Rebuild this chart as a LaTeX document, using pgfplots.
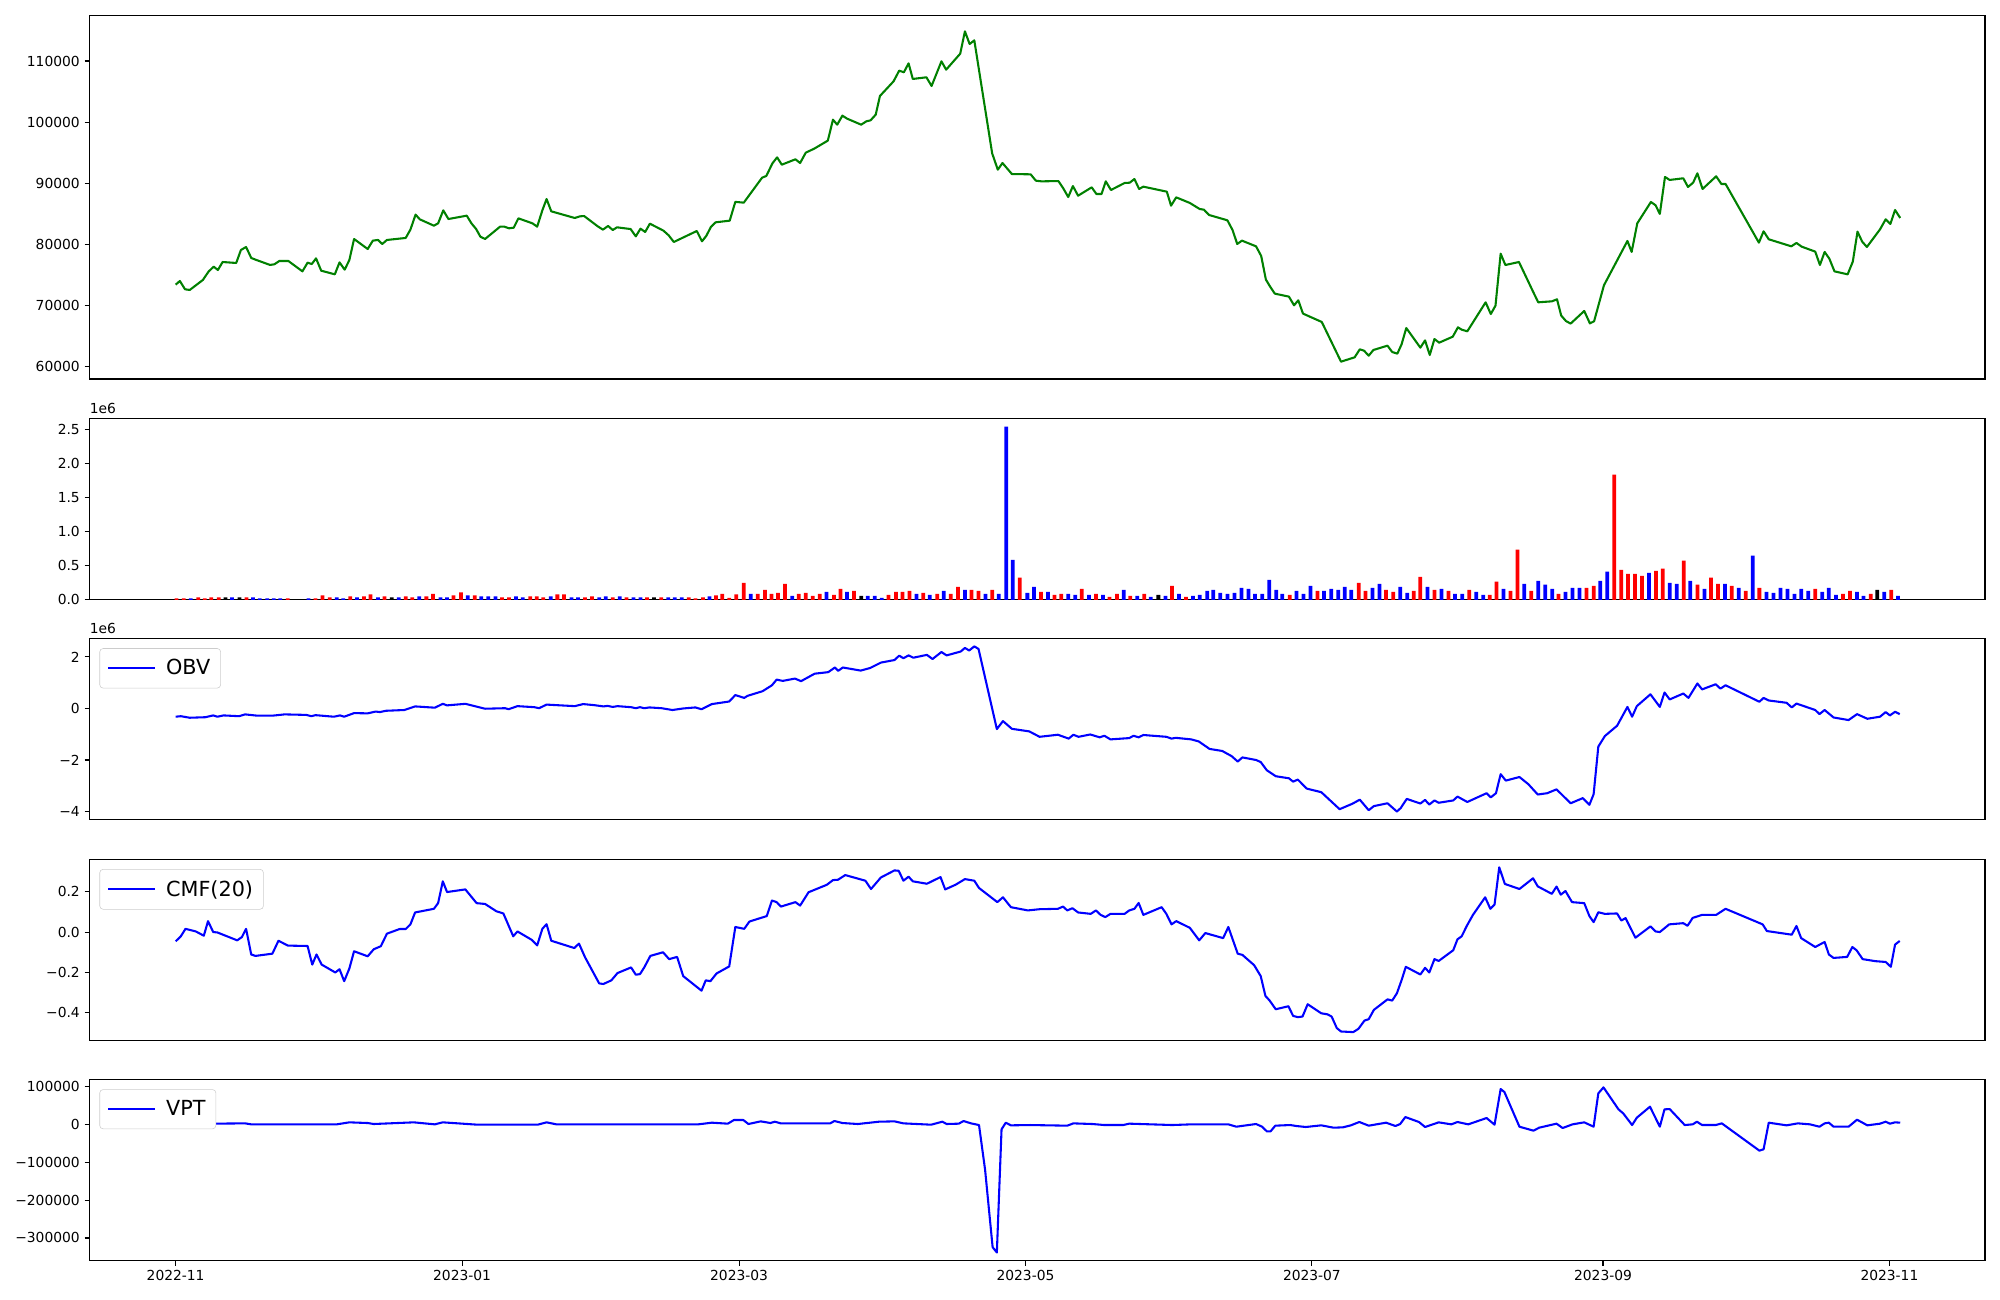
\documentclass[border=0pt]{standalone}
\usepackage{fontspec}
\setmainfont{DejaVu Sans}
\usepackage{pgfplots}
\pgfplotsset{compat=1.18}

% one pixel of the 2000x1300 reference = 0.254mm
\pgfplotsset{
  panel/.style={
    scale only axis, width=481.46mm,
    xmin=-18.35, xmax=385.35,
    scaled ticks=false,
    axis line style={line width=0.8pt},
    every tick/.style={line width=0.8pt, black},
    major tick length=3.5pt, tick align=outside, tick pos=left,
    xtick=\empty,
    tick label style={font=\fontsize{10}{12}\selectfont},
    every axis plot/.append style={line width=1.5pt, line join=round},
    legend style={at={(0,1)}, anchor=north west, xshift=7.2pt, yshift=-7.2pt,
      draw=black!20, rounded corners=2.5pt, fill=white,
      font=\fontsize{15}{18}\selectfont, inner xsep=5.5pt, inner ysep=6pt,
      column sep=5pt},
    legend cell align=left,
    legend image code/.code={\draw[##1, line width=1.5pt] (0pt,0pt) -- (34pt,0pt);},
  },
  offset label/.style={clip=false,
    after end axis/.code={\node[anchor=south west, inner sep=0pt,
      font=\fontsize{10}{12}\selectfont] at ([yshift=3pt]rel axis cs:0,1) {1e6};}},
}

\begin{document}
\begin{tikzpicture}
\useasboundingbox (0,0) rectangle (508mm,330.2mm);

% price
\begin{axis}[panel, at={(22.73mm,326.31mm)}, anchor=north west, height=92.38mm,
    ymin=57920, ymax=117485,
    ytick={60000,70000,80000,90000,100000,110000},
    yticklabels={60000,70000,80000,90000,100000,110000}]
\addplot[color={rgb,255:red,0;green,128;blue,0}] coordinates {
(0,73370) (0.9,73970) (2.0,72610) (3.0,72500) (5.8,74140) (7.0,75500) (8.1,76320)
(9.0,75770) (10.0,77080) (12.9,76920) (13.9,79050) (15.0,79540) (16.1,77740)
(17.2,77410) (20.1,76600) (21.0,76700) (22.1,77250) (24.0,77250) (27.0,75550)
(28.1,76970) (29.0,76750) (29.9,77680) (31.0,75660) (33.9,75060) (34.9,77020)
(36.0,75820) (37.0,77410) (38.0,80850) (40.9,79210) (42.0,80580) (43.1,80690)
(44.0,80030) (45.0,80690) (49.0,81020) (50.0,82380) (51.1,84840) (52.0,84070)
(55.0,83030) (55.9,83410) (57.0,85540) (58.1,84120) (62.0,84670) (63.0,83410)
(64.0,82480) (64.9,81230) (65.9,80850) (69.1,82870) (70.0,82870) (71.0,82600)
(72.0,82700) (73.0,84230) (76.0,83410) (77.0,82870) (78.1,85540) (79.0,87400)
(80.0,85380) (85.0,84290) (86.1,84560) (87.0,84610) (89.9,82920) (91.0,82380)
(92.1,82980) (93.1,82320) (94.0,82760) (96.9,82480) (98.0,81280) (99.0,82540)
(100.0,82000) (101.0,83360) (103.9,82210) (105.0,81450) (106.1,80360) (111.0,82160)
(112.1,80470) (113.0,81340) (114.0,82820) (115.0,83580) (118.0,83850) (119.2,86930)
(121.0,86800) (124.9,90890) (125.8,91170) (127.1,93240) (128.1,94220) (129.1,93020)
(132.0,93900) (133.0,93290) (134.2,94990) (136.0,95640) (138.9,96960) (140.0,100390)
(140.9,99570) (142.0,101050) (143.0,100560) (146.0,99570) (147.1,100120) (148.0,100280)
(149.1,101210) (150.0,104270) (152.9,106670) (154.1,108420) (155.1,108150) (156.1,109620)
(157.0,107060) (159.9,107330) (161.0,105910) (163.1,109950) (164.1,108580) (167.1,111200)
(168.1,114860) (169.1,112780) (170.1,113380) (173.9,94880) (175.1,92200) (176.1,93290)
(178.1,91490) (182.1,91440) (183.2,90400) (184.4,90290) (188.0,90340) (189.0,89200)
(190.1,87720) (191.1,89520) (192.2,87940) (195.1,89310) (196.1,88220) (197.2,88220)
(198.1,90290) (199.2,88870) (202.1,90020) (203.2,90070) (204.2,90670) (205.2,89040)
(206.1,89420) (211.1,88600) (212.0,86310) (213.1,87670) (216.0,86750) (218.1,85760)
(219.0,85650) (220.1,84780) (224.0,83910) (225.1,82320) (226.1,80030) (227.1,80580)
(230.1,79650) (231.2,78070) (232.2,74200) (233.1,73050) (234.1,71900) (237.1,71410)
(238.2,69990) (239.1,70810) (240.1,68630) (244.1,67260) (248.2,60760) (251.1,61470)
(252.2,62780) (253.1,62560) (254.1,61740) (255.1,62670) (258.1,63380) (259.1,62340)
(260.2,62070) (261.1,63600) (262.1,66270) (265.1,63050) (266.1,64250) (267.1,61850)
(268.1,64470) (269.1,63870) (272.0,64850) (273.1,66380) (273.9,66000) (275.1,65730)
(279.0,70480) (280.1,68560) (281.1,69930) (282.2,78450) (283.2,76590) (286.1,77080)
(289.1,72230) (290.2,70480) (293.1,70640) (294.2,70970) (295.1,68300) (296.1,67420)
(297.1,66990) (300.0,69060) (301.2,67040) (302.1,67370) (304.2,73270) (309.2,80530)
(310.1,78730) (311.3,83420) (314.2,86910) (315.2,86370) (316.1,84950) (317.2,91010)
(318.2,90520) (321.1,90790) (322.1,89370) (323.2,90080) (324.1,91610) (325.2,89040)
(328.1,91120) (329.2,89860) (330.1,89860) (337.2,80250) (338.2,82110) (339.3,80800)
(344.1,79650) (345.2,80200) (346.3,79600) (349.2,78780) (350.2,76590) (351.2,78730)
(352.2,77630) (353.3,75550) (356.1,75060) (357.2,77140) (358.2,82050) (359.2,80410)
(360.2,79540) (363.0,82430) (364.2,84070) (365.2,83310) (366.2,85600) (367.3,84290)
};
\end{axis}

% volume
\begin{axis}[panel, offset label, at={(22.73mm,223.95mm)}, anchor=north west, height=46.1mm,
    ymin=0, ymax=2665000,
    ytick={0,500000,1000000,1500000,2000000,2500000},
    yticklabels={0.0,0.5,1.0,1.5,2.0,2.5}]
\addplot[ybar, bar width=0.8, bar shift=0pt, fill=red, draw=none] coordinates {
(0.2,20000) (1.7,20000) (4.8,34000) (6.2,20000) (7.6,34000) (9.2,34000) (15.1,34000)
(23.9,20000) (29.8,20000) (31.3,64000) (32.8,34000) (37.2,50000) (40.1,50000)
(41.5,78000) (44.5,50000) (49.0,50000) (50.4,34000) (53.4,50000) (54.8,88000)
(59.2,64000) (60.8,108000) (63.7,64000) (69.5,34000) (71.0,34000) (75.5,50000)
(76.9,50000) (78.3,34000) (81.3,78000) (82.7,78000) (87.2,34000) (88.7,50000)
(93.1,34000) (96.0,34000) (100.4,34000) (103.4,34000) (109.3,34000) (110.7,20000)
(112.3,34000) (115.1,64000)
(116.4,88000) (117.9,30000) (119.4,78000) (121.0,250000) (124.0,88000) (125.5,147000)
(126.9,88000) (128.3,103000) (129.8,235000) (132.7,88000) (134.2,103000) (135.7,59000)
(137.2,88000) (140.2,74000) (141.6,162000) (144.5,132000) (151.8,74000) (153.4,118000)
(154.8,118000) (156.3,132000) (159.2,103000) (162.2,88000) (165.1,88000) (166.6,191000)
(169.5,147000) (171.0,132000) (173.9,147000) (179.8,324000) (184.3,118000) (187.2,74000)
(188.6,88000) (193.0,162000) (196.0,88000) (198.9,44000) (200.5,88000) (203.3,59000)
(206.3,88000) (212.2,206000) (215.2,44000) (237.3,74000) (243.2,132000) (252.0,250000)
(253.4,132000)
(257.8,147000) (259.3,118000) (263.7,132000) (265.1,338000) (268.1,147000) (271.1,132000)
(275.5,147000) (279.9,74000) (281.3,265000) (284.3,132000) (285.8,735000) (288.7,132000)
(294.5,88000) (300.5,176000) (302.0,206000) (306.4,1838000) (307.9,441000) (309.3,382000)
(310.8,382000) (312.3,353000) (315.3,426000) (316.7,456000) (321.2,574000) (324.1,221000)
(327.0,324000) (328.5,235000) (331.4,206000) (334.4,132000) (337.3,176000) (349.2,162000)
(355.1,88000) (356.6,132000) (361.0,88000) (365.4,147000)
};
\addplot[ybar, bar width=0.8, bar shift=0pt, fill=blue, draw=none] coordinates {
(3.2,20000) (12.0,34000) (16.5,34000) (17.9,20000) (19.5,20000) (20.9,20000) (22.3,20000)
(28.3,20000) (34.3,34000) (35.7,20000) (38.6,34000) (43.1,34000) (47.5,34000) (51.9,50000)
(56.4,34000) (57.8,34000) (62.2,64000) (65.1,50000) (66.6,50000) (68.1,50000) (72.5,50000)
(73.9,34000) (79.9,50000) (84.3,34000) (85.7,34000) (90.2,34000) (91.6,50000) (94.6,50000)
(97.5,34000) (99.0,34000) (104.9,34000) (106.3,34000) (107.8,34000) (113.7,50000)
(122.5,88000) (131.3,59000) (138.6,118000) (143.0,118000) (147.4,59000) (148.9,59000)
(150.4,30000) (157.8,88000) (160.6,74000) (163.6,132000) (168.1,147000) (172.5,88000)
(175.3,88000) (176.9,2544000) (178.3,588000) (181.4,103000) (182.8,191000) (185.8,118000)
(190.1,88000) (191.6,74000) (194.5,74000) (197.5,74000) (201.9,147000) (204.8,59000)
(207.7,44000) (210.8,59000) (213.7,88000) (216.7,59000) (218.1,74000) (219.7,132000)
(221.0,147000) (222.5,103000) (224.0,88000) (225.5,103000) (227.0,176000) (228.5,162000)
(229.9,88000) (231.4,88000) (232.9,294000) (234.4,147000) (235.7,88000) (238.7,132000)
(240.2,88000) (241.7,206000) (244.6,132000) (246.1,162000) (247.6,147000) (249.0,191000)
(250.4,147000) (254.9,176000) (256.4,235000)
(260.8,191000) (262.3,103000) (266.6,191000) (269.6,162000) (272.5,88000) (274.0,88000)
(277.0,118000) (278.5,74000) (282.8,162000) (287.2,235000) (290.2,279000) (291.7,221000)
(293.2,162000) (296.0,118000) (297.5,176000) (299.0,176000) (303.4,279000) (304.9,412000)
(313.8,397000) (318.2,250000) (319.7,235000) (322.6,279000) (325.6,162000) (330.0,235000)
(332.9,176000) (335.9,647000) (338.8,118000) (340.3,103000) (341.8,176000) (343.3,162000)
(344.8,88000) (346.2,162000) (347.7,132000) (350.7,118000) (352.1,176000) (353.6,74000)
(358.1,118000) (359.5,59000) (363.9,118000) (366.8,59000)
};
\addplot[ybar, bar width=0.8, bar shift=0pt, fill=black, draw=none] coordinates {
(10.6,34000) (13.6,34000) (46.0,34000) (101.9,34000) (146.0,59000) (209.3,74000) (362.4,147000)
};
\end{axis}

% OBV
\begin{axis}[panel, offset label, at={(22.73mm,168.08mm)}, anchor=north west, height=46.1mm,
    ymin=-4320000, ymax=2725000,
    ytick={-4000000,-2000000,0,2000000},
    yticklabels={−4,−2,0,2}]
\addplot[blue] coordinates {
(0,-320000) (1.1,-300000) (3.0,-360000) (6.3,-340000) (8.0,-270000) (8.9,-320000)
(10.2,-270000) (13.5,-300000) (14.8,-230000) (17.4,-280000) (20.6,-280000) (23.2,-230000)
(27.8,-250000) (28.9,-300000) (29.8,-260000) (33.7,-320000) (35.0,-270000) (35.9,-320000)
(38.0,-180000) (40.9,-190000) (42.6,-120000) (43.5,-140000) (44.8,-90000) (48.7,-60000)
(51.0,80000) (55.2,30000) (56.9,180000) (57.8,120000) (61.7,180000) (65.9,-10000)
(70.2,10000) (70.9,-30000) (72.8,90000) (76.4,50000) (77.4,10000) (79.0,150000)
(85.0,90000) (86.8,170000) (89.1,130000) (91.1,80000) (92.0,100000) (93.1,60000)
(94.1,90000) (97.0,50000) (98.0,10000) (98.9,50000) (99.8,10000) (100.9,40000)
(103.5,10000) (105.8,-60000) (108.1,0) (110.7,40000) (112.0,-30000) (114.2,170000)
(117.9,270000) (119.2,520000) (121.1,410000) (121.8,490000) (125.0,670000) (127.0,900000)
(128.0,1120000) (129.3,1070000) (131.9,1160000) (133.2,1060000) (136.1,1350000)
(139.0,1410000) (140.4,1590000) (141.1,1460000) (142.1,1590000) (145.9,1470000)
(147.9,1570000) (150.2,1780000) (153.1,1880000) (154.1,2050000) (155.0,1950000)
(156.1,2060000) (157.1,1970000) (160.0,2080000) (161.2,1920000) (163.1,2190000)
(164.2,2060000) (167.2,2210000) (168.1,2350000) (169.0,2250000) (170.1,2410000)
(171.0,2310000) (174.9,-800000) (176.2,-490000) (178.1,-790000) (181.8,-890000)
(184.0,-1100000) (187.9,-1020000) (190.2,-1170000) (191.2,-1020000) (192.3,-1100000)
(194.8,-1010000) (196.8,-1120000) (197.8,-1060000) (199.1,-1200000) (203.1,-1150000)
(204.0,-1060000) (205.1,-1120000) (206.1,-1030000) (211.0,-1100000) (212.1,-1170000)
(213.0,-1140000) (216.3,-1200000) (217.9,-1280000) (220.2,-1570000) (222.9,-1650000)
(224.9,-1850000) (226.2,-2060000) (227.2,-1900000) (230.1,-2000000) (231.1,-2080000)
(232.4,-2400000) (234.3,-2630000) (237.1,-2710000) (238.0,-2840000) (239.0,-2760000)
(240.9,-3110000) (244.0,-3250000) (247.9,-3910000) (250.6,-3700000) (252.2,-3540000)
(254.1,-3950000) (255.2,-3790000) (258.1,-3680000) (260.1,-4000000) (260.9,-3870000)
(262.2,-3510000) (265.1,-3690000) (266.1,-3550000) (267.0,-3730000) (268.1,-3570000)
(269.0,-3660000) (272.1,-3570000) (273.0,-3420000) (275.1,-3630000) (279.2,-3290000)
(280.1,-3450000) (281.2,-3290000) (282.2,-2550000) (283.3,-2800000) (286.2,-2660000)
(288.1,-2940000) (290.1,-3340000) (292.1,-3290000) (294.1,-3140000) (297.1,-3680000)
(299.7,-3480000) (301.1,-3740000) (302.0,-3330000) (303.0,-1480000) (304.4,-1070000)
(307.0,-670000) (309.2,60000) (310.2,-320000) (311.2,90000) (314.1,550000) (316.1,60000)
(317.1,620000) (318.2,350000) (321.1,580000) (322.2,410000) (324.1,970000) (325.1,740000)
(328.0,940000) (329.0,770000) (330.1,900000) (337.3,260000) (338.2,410000) (339.3,310000)
(343.1,220000) (344.2,40000) (345.2,190000) (349.2,-60000) (350.1,-220000) (351.2,-60000)
(353.1,-350000) (356.3,-450000) (358.1,-220000) (360.3,-400000) (363.0,-320000)
(364.2,-140000) (365.1,-270000) (366.2,-130000) (367.2,-220000)
};
\legend{OBV}
\end{axis}

% CMF
\begin{axis}[panel, at={(22.73mm,111.99mm)}, anchor=north west, height=46.1mm,
    ymin=-0.537, ymax=0.361,
    ytick={-0.4,-0.2,0,0.2},
    yticklabels={−0.4,−0.2,0.0,0.2}]
\addplot[blue] coordinates {
(0,-0.046) (1.1,-0.021) (2.1,0.016) (4.3,0.003) (6.0,-0.018) (6.9,0.054) (8.0,0.0)
(8.9,-0.002) (13.1,-0.041) (14.1,-0.025) (15.0,0.016) (16.1,-0.111) (17.0,-0.118)
(20.6,-0.107) (21.9,-0.043) (23.9,-0.067) (28.1,-0.069) (29.1,-0.161) (30.0,-0.111)
(31.1,-0.161) (34.0,-0.2) (34.9,-0.184) (35.9,-0.243) (37.0,-0.180) (38.0,-0.095)
(40.9,-0.120) (42.2,-0.085) (43.7,-0.070) (45.0,-0.008) (47.7,0.015) (49.0,0.015)
(50.0,0.038) (51.0,0.097) (55.0,0.115) (55.9,0.143) (56.9,0.251) (57.8,0.198)
(61.7,0.211) (64.1,0.143) (65.9,0.139) (68.3,0.103) (69.8,0.092) (71.9,-0.021)
(72.8,0.003) (75.8,-0.038) (77.0,-0.066) (78.1,0.016) (79.0,0.039) (80.0,-0.043)
(84.9,-0.079) (85.9,-0.057) (87.2,-0.125) (90.2,-0.254) (91.1,-0.257) (92.8,-0.239)
(94.1,-0.203) (97.0,-0.175) (98.0,-0.211) (98.9,-0.208) (99.8,-0.175) (101.1,-0.118)
(103.8,-0.100) (105.1,-0.134) (106.8,-0.123) (108.1,-0.218) (112.0,-0.290) (112.9,-0.239)
(113.9,-0.243) (115.2,-0.205) (117.9,-0.170) (119.2,0.025) (121.1,0.016) (122.2,0.052)
(124.1,0.066) (125.9,0.079) (127.0,0.156) (128.0,0.148) (128.9,0.126) (132.0,0.148)
(133.0,0.131) (134.8,0.197) (138.7,0.234) (140.0,0.257) (141.1,0.259) (142.6,0.282)
(146.9,0.254) (148.1,0.213) (150.2,0.270) (153.1,0.305) (154.0,0.303) (155.0,0.254)
(156.1,0.274) (157.0,0.251) (160.0,0.239) (162.9,0.272) (163.9,0.211) (166.1,0.234)
(168.1,0.262) (170.1,0.254) (171.1,0.218) (175.0,0.148) (176.2,0.172) (177.9,0.123)
(181.5,0.107) (184.0,0.113) (187.9,0.115) (189.0,0.126) (189.9,0.107) (191.0,0.118)
(192.2,0.097) (194.9,0.090) (196.0,0.107) (197.0,0.085) (198.0,0.074) (199.1,0.090)
(202.1,0.090) (203.1,0.107) (204.2,0.115) (205.1,0.144) (206.1,0.085) (210.0,0.123)
(211.0,0.090) (212.1,0.038) (213.1,0.054) (216.0,0.021) (218.0,-0.041) (219.3,-0.005)
(223.1,-0.030) (224.2,0.025) (226.2,-0.107) (227.2,-0.113) (229.7,-0.164) (231.1,-0.218)
(232.1,-0.316) (233.0,-0.339) (234.3,-0.382) (237.0,-0.367) (238.0,-0.415) (239.0,-0.421)
(240.0,-0.418) (241.1,-0.357) (244.0,-0.402) (245.3,-0.407) (246.2,-0.418) (247.3,-0.475)
(248.2,-0.492) (250.8,-0.495) (251.9,-0.479) (253.2,-0.438) (254.1,-0.431) (255.2,-0.385)
(258.1,-0.333) (259.1,-0.339) (260.1,-0.303) (261.1,-0.238) (262.0,-0.172) (265.1,-0.210)
(266.1,-0.177) (267.0,-0.200) (268.1,-0.134) (269.0,-0.143) (272.1,-0.090) (273.0,-0.036)
(273.9,-0.021) (275.0,0.031) (276.3,0.085) (278.9,0.172) (280.0,0.115) (280.9,0.136)
(281.9,0.320) (283.1,0.238) (286.2,0.213) (289.1,0.266) (290.1,0.226) (293.1,0.189)
(294.1,0.225) (295.0,0.185) (296.0,0.203) (297.4,0.148) (300.0,0.143) (301.1,0.079)
(302.0,0.049) (303.0,0.098) (304.4,0.090) (307.0,0.092) (307.9,0.057) (308.8,0.069)
(310.9,-0.028) (314.1,0.028) (315.2,0.003) (316.1,0.0) (318.1,0.038) (321.1,0.044)
(322.0,0.031) (323.1,0.070) (325.1,0.085) (328.1,0.085) (330.1,0.115) (338.0,0.038)
(338.9,0.005) (344.2,-0.013) (345.2,0.030) (346.2,-0.030) (349.2,-0.074) (351.2,-0.049)
(352.1,-0.111) (353.1,-0.128) (356.0,-0.123) (357.1,-0.074) (358.0,-0.090) (359.3,-0.134)
(362.0,-0.144) (364.2,-0.148) (365.3,-0.172) (366.2,-0.062) (367.2,-0.044)
};
\legend{CMF(20)}
\end{axis}

% VPT
\begin{axis}[panel, at={(22.73mm,56.06mm)}, anchor=north west, height=46.1mm,
    ymin=-360300, ymax=119000,
    ytick={-300000,-200000,-100000,0,100000},
    yticklabels={−300000,−200000,−100000,0,100000},
    xtick={0,61,120,181,242,304,365},
    xticklabels={2022-11,2023-01,2023-03,2023-05,2023-07,2023-09,2023-11}]
\addplot[blue] coordinates {
(0,900) (14.8,2600) (16.1,0) (34.3,0) (37.0,5300) (40.9,3500) (42.2,900) (50.7,5300)
(55.2,0) (56.9,5300) (64.3,-900) (77.1,-900) (79.0,5300) (81.1,0) (111.3,0) (114.2,4400)
(117.6,1800) (118.9,11400) (120.9,11400) (122.0,900) (124.6,7900) (126.7,3500)
(127.6,7000) (128.9,2600) (139.4,2600) (140.3,8800) (142.0,3500) (145.3,900)
(149.8,7000) (153.1,7900) (155.0,2600) (160.9,-900) (163.3,7000) (164.2,900)
(166.8,1800) (167.8,8800) (169.4,2600) (171.1,-1800) (172.4,-120400) (174.0,-324400)
(174.9,-338500) (175.9,-13200) (176.8,4400) (177.9,-2600) (182.0,-1800) (189.9,-3500)
(191.2,2600) (195.2,900) (197.8,-1800) (201.8,-1800) (203.1,1800) (212.3,-1800)
(216.3,0) (224.2,0) (225.9,-6200) (230.1,900) (231.4,-6200) (232.4,-18500)
(233.2,-18500) (234.2,-3500) (237.4,-1800) (238.7,-4400) (240.7,-7000) (244.0,-2600)
(246.6,-8800) (248.6,-7900) (250.3,-2600) (252.1,6200) (254.1,-3500) (257.8,4400)
(259.8,-4400) (260.8,900) (261.9,19300) (264.8,6200) (266.1,-7000) (269.0,5300)
(271.7,0) (273.0,6200) (275.3,0) (279.2,16700) (280.9,-900) (282.2,93200) (283.0,85300)
(286.2,-6200) (289.2,-16700) (290.4,-8800) (294.1,1800) (295.4,-9700) (297.5,0)
(300.0,5300) (302.0,-6200) (303.0,81800) (304.1,97600) (307.3,39600) (308.3,29000)
(310.2,-1800) (311.2,17600) (314.0,46600) (316.1,-6200) (317.1,39600) (318.2,40400)
(321.4,-1800) (323.1,0) (324.0,7000) (325.1,-1800) (328.0,-1800) (329.3,2600)
(337.3,-69400) (338.2,-65900) (339.3,4400) (343.1,-2600) (345.5,2600) (348.1,0)
(350.1,-6200) (351.2,2600) (352.1,4400) (353.1,-6200) (356.3,-6200) (358.1,12300)
(360.3,-2600) (363.0,1800) (364.2,7000) (365.1,1800) (366.2,5300) (367.3,4400)
};
\legend{VPT}
\end{axis}
\end{tikzpicture}
\end{document}
